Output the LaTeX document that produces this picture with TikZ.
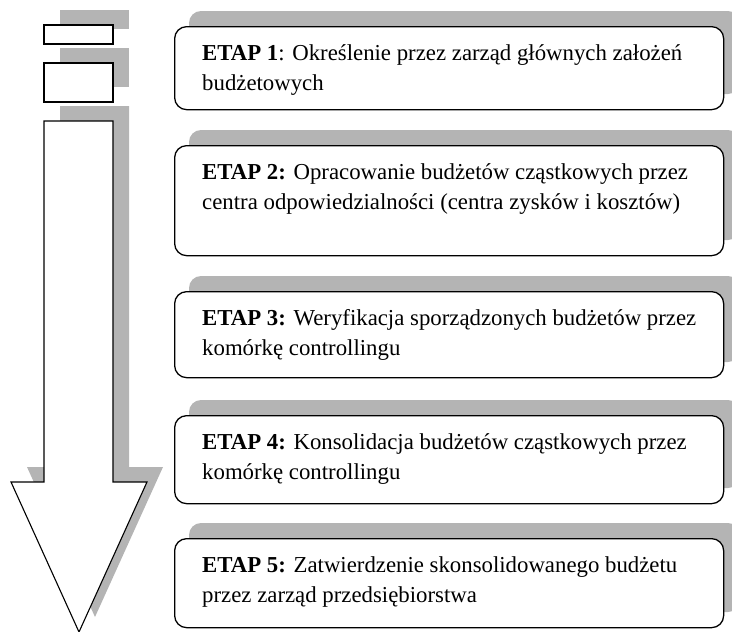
\documentclass[tikz,border=0pt]{standalone}
\usepackage{fontspec}
\setmainfont{Liberation Serif}
\definecolor{shadowgray}{RGB}{180,180,180}
\begin{document}
\begin{tikzpicture}[x=1pt,y=-1pt,
  shadowbox/.style={fill=shadowgray, rounded corners=12pt},
  stepbox/.style={draw=black, line width=1.3pt, fill=white, rounded corners=12pt, anchor=north west, inner sep=0pt},
  steptext/.style={anchor=north west, inner sep=0pt, align=left, font=\fontsize{22.8}{30}\selectfont},
  arrowpart/.style={draw=black, line width=1.6pt, fill=white},
  arrowshadow/.style={fill=shadowgray}]
\useasboundingbox (0,0) rectangle (732,632);

% ---- big down arrow (shadows first) ----
\fill[arrowshadow] (60,10) rectangle (129,29);
\fill[arrowshadow] (60,48) rectangle (129,87);
\fill[arrowshadow] (60,106) -- (129,106) -- (129,467) -- (163,467) -- (95,617) -- (27,467) -- (60,467) -- cycle;
\draw[arrowpart] (44,25) rectangle (113,44);
\draw[arrowpart] (44,63) rectangle (113,102);
\draw[draw=black, line width=1.1pt, fill=white] (44,121) -- (113,121) -- (113,482) -- (147,482) -- (79,632) -- (11,482) -- (44,482) -- cycle;

% ---- step boxes ----
\foreach \t/\h [count=\i] in {26/83, 145/110, 291/86, 415/88, 538/89}{
  \fill[shadowbox] (189,\t-15) rectangle (740,\t+\h-15);
}
\node[stepbox, minimum width=549pt, minimum height=83pt] (b1) at (174,26) {};
\node[stepbox, minimum width=549pt, minimum height=110pt] (b2) at (174,145) {};
\node[stepbox, minimum width=549pt, minimum height=86pt] (b3) at (174,291) {};
\node[stepbox, minimum width=549pt, minimum height=88pt] (b4) at (174,415) {};
\node[stepbox, minimum width=549pt, minimum height=89pt] (b5) at (174,538) {};

\node[steptext] (t1) at ([xshift=28pt,yshift=-18pt]b1.north west) {\textbf{ETAP 1}: Określenie przez zarząd głównych założeń\\budżetowych};
\node[steptext] (t2) at ([xshift=28pt,yshift=-18pt]b2.north west) {\textbf{ETAP 2:} Opracowanie budżetów cząstkowych przez\\centra odpowiedzialności (centra zysków i kosztów)};
\node[steptext] (t3) at ([xshift=28pt,yshift=-18pt]b3.north west) {\textbf{ETAP 3:} Weryfikacja sporządzonych budżetów przez\\komórkę controllingu};
\node[steptext] (t4) at ([xshift=28pt,yshift=-18pt]b4.north west) {\textbf{ETAP 4:} Konsolidacja budżetów cząstkowych przez\\komórkę controllingu};
\node[steptext] (t5) at ([xshift=28pt,yshift=-18pt]b5.north west) {\textbf{ETAP 5:} Zatwierdzenie skonsolidowanego budżetu\\przez zarząd przedsiębiorstwa};
\end{tikzpicture}
\end{document}
